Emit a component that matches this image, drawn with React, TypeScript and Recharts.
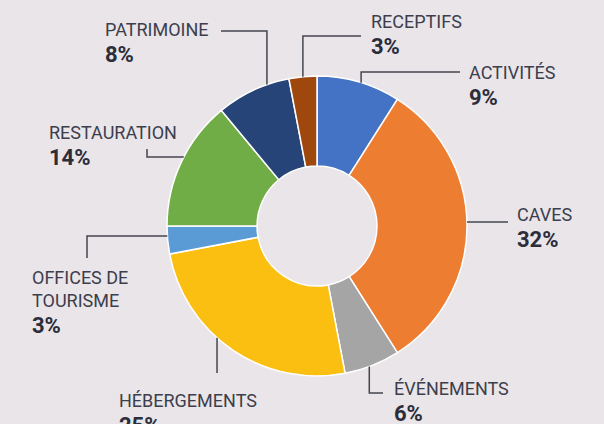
import { PieChart, Pie, Cell } from 'recharts'

const categories = [
  'ACTIVITÉS',
  'CAVES',
  'ÉVÉNEMENTS',
  'HÉBERGEMENTS',
  'OFFICES DE\nTOURISME',
  'RESTAURATION',
  'PATRIMOINE',
  'RECEPTIFS',
]
const shares = [9, 32, 6, 25, 3, 14, 8, 3]
const colors = [
  '#4472C4',
  '#ED7D31',
  '#A5A5A5',
  '#FBBF12',
  '#5B9BD5',
  '#70AD47',
  '#264478',
  '#9E480E',
]

// leader line + text placement, offsets from pie centre
// kind: 'vh' = vertical then horizontal, 'hv' = horizontal then vertical
type LabelLayout = {
  kind: 'vh' | 'hv' | 'v' | 'h'
  shift: number
  bx: number
  by: number
  ex: number
  ey: number
  tx: number
  ty: number
}
const labelLayout: LabelLayout[] = [
  { kind: 'vh', shift: 0.9, bx: 0, by: -154, ex: 143, ey: 0, tx: 152, ty: -147 },
  { kind: 'h', shift: -1.5, bx: 0, by: 0, ex: 191, ey: 0, tx: 200, ty: -5 },
  { kind: 'vh', shift: 1.2, bx: 0, by: 167, ex: 66, ey: 0, tx: 77, ty: 169 },
  { kind: 'v', shift: 7.6, bx: 0, by: 147, ex: 0, ey: 0, tx: -198, ty: 181 },
  { kind: 'hv', shift: 1.6, bx: -230, by: 0, ex: 0, ey: 32, tx: -285, ty: 58 },
  { kind: 'hv', shift: 2.2, bx: -170, by: 0, ex: 0, ey: -77, tx: -268, ty: -87 },
  { kind: 'vh', shift: 5.7, bx: 0, by: -195, ex: -96, ey: 0, tx: -212, ty: -190 },
  { kind: 'vh', shift: 0, bx: 0, by: -190, ex: 44, ey: 0, tx: 54, ty: -198 },
]

const data = categories.map((name, i) => ({ name, value: shares[i] }))

const RAD = Math.PI / 180
const FONT = 'Roboto, "Noto Sans", sans-serif'

const renderLabel = (props: any) => {
  const { cx, cy, midAngle, outerRadius, index } = props
  const lay = labelLayout[index]
  const a = (midAngle - lay.shift) * RAD
  const ax = cx + outerRadius * Math.cos(-a)
  const ay = cy + outerRadius * Math.sin(-a)
  let pts: number[][] = []
  if (lay.kind === 'vh') {
    pts = [[ax, ay], [ax, cy + lay.by], [cx + lay.ex, cy + lay.by]]
  } else if (lay.kind === 'hv') {
    pts = [[ax, ay], [cx + lay.bx, ay], [cx + lay.bx, cy + lay.ey]]
  } else if (lay.kind === 'v') {
    pts = [[ax, ay], [ax, cy + lay.by]]
  } else {
    pts = [[ax, ay], [cx + lay.ex, ay]]
  }
  const lines = categories[index].split('\n')
  const x = cx + lay.tx
  const y0 = cy + lay.ty
  return (
    <g key={`lbl-${index}`}>
      <polyline
        points={pts.map((p) => p.join(',')).join(' ')}
        fill="none"
        stroke="#45464f"
        strokeWidth={1.5}
      />
      {lines.map((ln, j) => (
        <text
          key={j}
          x={x}
          y={y0 + j * 23}
          fontFamily={FONT}
          fontSize={18}
          fill="#3c3e4d"
        >
          {ln}
        </text>
      ))}
      <text
        x={x}
        y={y0 + (lines.length - 1) * 23 + 26}
        fontFamily={FONT}
        fontSize={22}
        fontWeight={700}
        fill="#2b2d3b"
      >
        {`${shares[index]}%`}
      </text>
    </g>
  )
}

export default function App() {
  return (
    <div
      style={{
        position: 'fixed',
        left: 0,
        top: 0,
        width: 604,
        height: 424,
        background: '#e9e5e8',
        overflow: 'hidden',
      }}
    >
      <PieChart width={604} height={424} margin={{ top: 0, right: 0, bottom: 0, left: 0 }}>
        <Pie
          data={data}
          dataKey="value"
          nameKey="name"
          cx={317}
          cy={226}
          innerRadius={60}
          outerRadius={150}
          startAngle={90}
          endAngle={-270}
          stroke="#ffffff"
          strokeWidth={1.5}
          label={renderLabel}
          labelLine={false}
          isAnimationActive={false}
        >
          {data.map((d, i) => (
            <Cell key={d.name} fill={colors[i]} />
          ))}
        </Pie>
      </PieChart>
    </div>
  )
}
